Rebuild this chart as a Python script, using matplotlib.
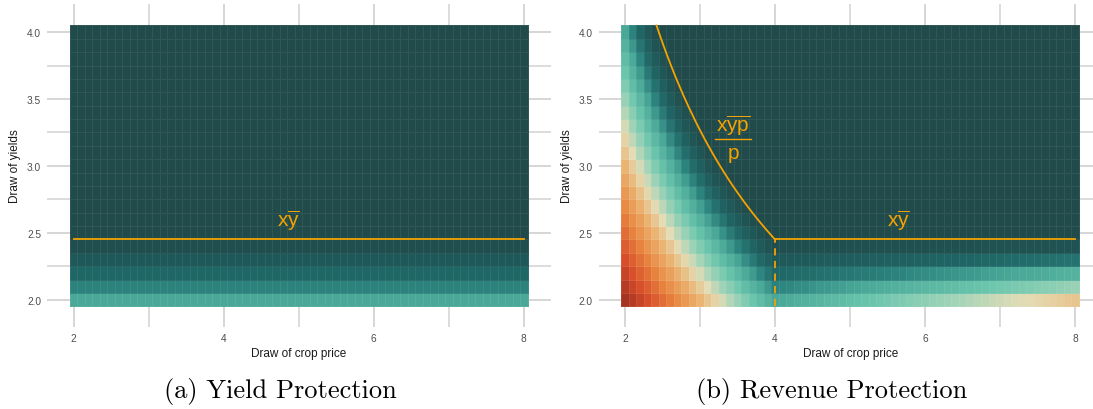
import numpy as np
import matplotlib
matplotlib.use("Agg")
import matplotlib.pyplot as plt
from matplotlib.colors import LinearSegmentedColormap

plt.rcParams["font.family"] = ["Liberation Sans", "DejaVu Sans"]
plt.rcParams["mathtext.fontset"] = "custom"
plt.rcParams["mathtext.rm"] = "Liberation Sans"
plt.rcParams["mathtext.it"] = "Liberation Sans:italic"

# draws on the grid (tile centres)
prices = np.round(np.arange(2.0, 8.01, 0.1), 1)
yields = np.round(np.arange(2.0, 4.01, 0.1), 1)

guarantee_yield = 2.45   # x * ybar
projected_price = 4.0    # pbar

x_ticks = [2, 4, 6, 8]
y_ticks = [2.0, 2.5, 3.0, 3.5, 4.0]
captions = ["(a) Yield Protection", "(b) Revenue Protection"]

# colour scale, indemnity value -> colour
scale_values = [0.0, 0.5, 1.0, 1.4, 1.8, 2.4, 2.9, 3.3, 3.8, 4.5, 5.2, 5.8]
scale_colors = ["#214a4a", "#1f5555", "#1f6666", "#2c837e", "#4aa898", "#6cc6ad",
                "#a3d4b8", "#e3dcb5", "#ebb472", "#e8853f", "#d84e2b", "#a63322"]
vmax = scale_values[-1]
cmap = LinearSegmentedColormap.from_list(
    "ind", [(v / vmax, c) for v, c in zip(scale_values, scale_colors)])

P, Y = np.meshgrid(prices, yields)
yp_ind = projected_price * np.maximum(0, guarantee_yield - Y)
rp_ind = np.maximum(0, guarantee_yield * np.maximum(projected_price, P) - Y * P)

x_edges = np.append(prices - 0.05, prices[-1] + 0.05)
y_edges = np.append(yields - 0.05, yields[-1] + 0.05)

fig = plt.figure(figsize=(10.93, 4.10), dpi=100)
ax1 = fig.add_axes([0.0433, 0.2, 0.4606, 0.7878])
ax2 = fig.add_axes([0.5477, 0.2, 0.4606, 0.7878])

orange = "#F5A300"
for ax, data in [(ax1, yp_ind), (ax2, rp_ind)]:
    ax.set_axisbelow(True)
    ax.pcolormesh(x_edges, y_edges, data, cmap=cmap, vmin=0, vmax=vmax,
                  edgecolors=(1, 1, 1, 0.07), linewidth=0.6, zorder=2)
    ax.set_xlim(1.648, 8.36)
    ax.set_ylim(1.796, 4.21)
    ax.set_xticks(x_ticks)
    ax.set_xticklabels([str(t) for t in x_ticks])
    ax.set_yticks(y_ticks)
    ax.set_yticklabels(["%.1f" % t for t in y_ticks])
    ax.set_xticks([3, 5, 7], minor=True)
    ax.set_yticks([2.25, 2.75, 3.25, 3.75], minor=True)
    ax.grid(True, which="major", color="#d6d6d6", linewidth=1.4, zorder=0)
    ax.grid(True, which="minor", color="#d6d6d6", linewidth=1.2, zorder=0)
    ax.tick_params(which="both", length=0, labelsize=7.3, labelcolor="#4d4d4d")
    ax.tick_params(axis="y", pad=4.5)
    ax.tick_params(axis="x", pad=4)
    for s in ax.spines.values():
        s.set_visible(False)
    ax.set_xlabel("Draw of crop price", fontsize=8.5, color="#1a1a1a", labelpad=3)
    ax.set_ylabel("Draw of yields", fontsize=8.5, color="#1a1a1a", labelpad=4)

# yield protection guarantee
ax1.plot([prices[0], prices[-1]], [guarantee_yield, guarantee_yield], color=orange, lw=1.3, zorder=3)
ax1.text(4.86, 2.60, r"$\mathrm{x\overline{y}}$", color=orange, fontsize=15,
         ha="center", va="center", zorder=4)

# revenue protection guarantee
p_curve = np.linspace(guarantee_yield * projected_price / 4.05, projected_price, 100)
ax2.plot(p_curve, guarantee_yield * projected_price / p_curve, color=orange, lw=1.3, zorder=3)
ax2.plot([projected_price, prices[-1]], [guarantee_yield, guarantee_yield], color=orange, lw=1.3, zorder=3)
ax2.plot([projected_price, projected_price], [1.95, guarantee_yield], color=orange, lw=1.3,
         ls=(0, (4, 3)), zorder=3)
ax2.text(5.65, 2.60, r"$\mathrm{x\overline{y}}$", color=orange, fontsize=15,
         ha="center", va="center", zorder=4)
# fraction label: numerator, bar, denominator
ax2.text(3.44, 3.305, r"$\mathrm{x\overline{yp}}$", color=orange, fontsize=15,
         ha="center", va="center", zorder=4)
ax2.plot([3.20, 3.685], [3.20, 3.20], color=orange, lw=1.0, zorder=4)
ax2.text(3.44, 3.085, r"$\mathrm{p}$", color=orange, fontsize=15,
         ha="center", va="center", zorder=4)

fig.text(280 / 1093, 1 - 392 / 410, captions[0], family="cmr10", fontsize=19,
         ha="center", va="center")
fig.text(832 / 1093, 1 - 392 / 410, captions[1], family="cmr10", fontsize=19,
         ha="center", va="center")

fig.savefig("out.png", dpi=100)
